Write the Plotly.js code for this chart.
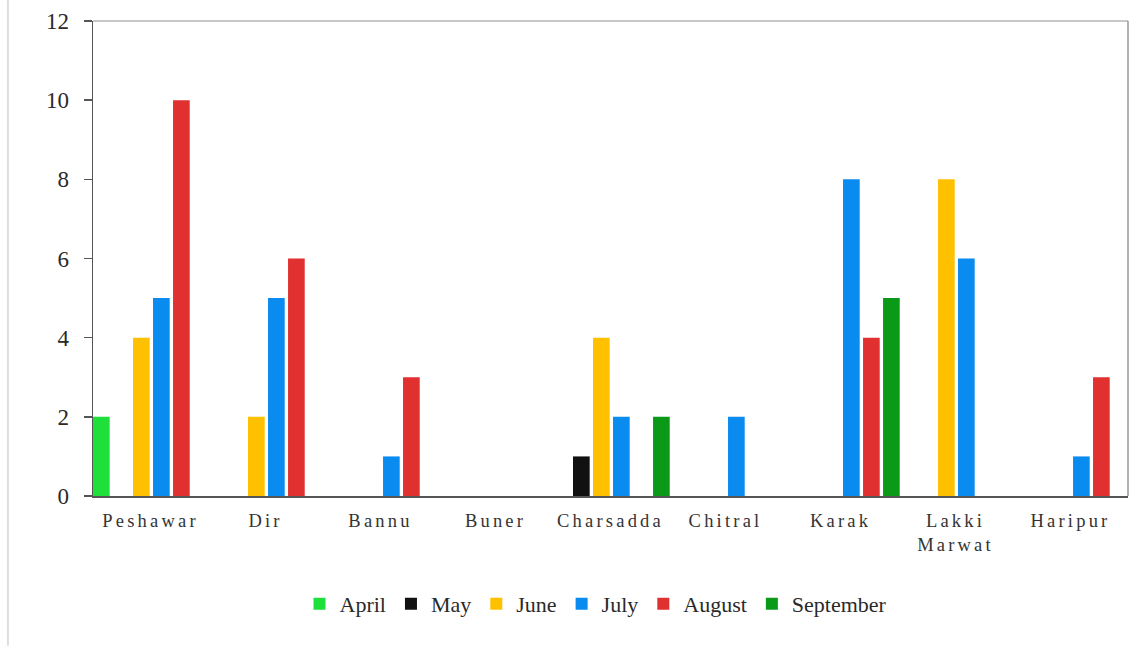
<!DOCTYPE html>
<html>
<head>
<meta charset="utf-8">
<script src="https://cdn.plot.ly/plotly-3.0.1.min.js"></script>
<style>
html,body{margin:0;padding:0;background:#fff;}
#chart{width:1146px;height:649px;}
.xtick text{letter-spacing:3.2px;}
</style>
</head>
<body>
<div id="chart"></div>
<script>
const districts = ["Peshawar","Dir","Bannu","Buner","Charsadda","Chitral","Karak","Lakki<br>Marwat","Haripur"];
const months = ["April","May","June","July","August","September"];
const april     = [2,0,0,0,0,0,0,0,0];
const may       = [0,0,0,0,1,0,0,0,0];
const june      = [4,2,0,0,4,0,0,8,0];
const july      = [5,5,1,0,2,2,8,6,1];
const august    = [10,6,3,0,0,0,4,0,3];
const september = [0,0,0,0,2,0,5,0,0];
const yTicks = [0,2,4,6,8,10,12];

const seriesValues = [april, may, june, july, august, september];
const colors = ["#1fe03a","#111111","#ffc000","#0a8bef","#e03030","#0a9a18"];

const pitch = 0.174, barW = 0.145;
const traces = months.map((m,i)=>({
  type:"bar",
  name:m,
  x:districts,
  y:seriesValues[i],
  marker:{color:colors[i], line:{width:0}},
  width:barW,
  offset:-0.5 + i*pitch,
  hoverinfo:"x+y+name"
}));

const layout = {
  width:1146, height:649,
  margin:{l:93, r:18, t:21, b:153},
  paper_bgcolor:"#fff", plot_bgcolor:"#fff",
  barmode:"overlay",
  font:{family:"Liberation Serif, Times New Roman, serif", color:"#333"},
  xaxis:{
    type:"category",
    range:[-0.5, 8.5],
    showgrid:false, zeroline:false,
    showline:true, linecolor:"#555", linewidth:1.5,
    ticks:"", tickfont:{size:18.5, color:"#333"},
    ticklabelstandoff:7
  },
  yaxis:{
    range:[0,12],
    tickvals:yTicks,
    showgrid:false, zeroline:false,
    showline:true, linecolor:"#555", linewidth:1.5,
    ticks:"outside", ticklen:8, tickcolor:"#555", tickwidth:1.5,
    tickfont:{size:23, color:"#2a2a2a"},
    ticklabelstandoff:10
  },
  legend:{
    orientation:"h",
    x:0.486, xanchor:"center",
    y:-0.227, yanchor:"middle",
    font:{size:22, color:"#2a2a2a"},
    itemwidth:30,
    tracegroupgap:0
  },
  shapes:[
    {type:"line", xref:"paper", yref:"paper", x0:0, x1:1, y0:1, y1:1, line:{color:"#c8c8c8", width:2}},
    {type:"line", xref:"paper", yref:"paper", x0:1, x1:1, y0:0, y1:1, line:{color:"#999", width:1.5}},
    {type:"line", xref:"paper", yref:"paper", x0:-0.0822, x1:-0.0822, y0:-0.315, y1:1.045, line:{color:"#dddddd", width:2}}
  ],
  showlegend:true
};

Plotly.newPlot("chart", traces, layout, {displayModeBar:false, staticPlot:true});
</script>
</body>
</html>
